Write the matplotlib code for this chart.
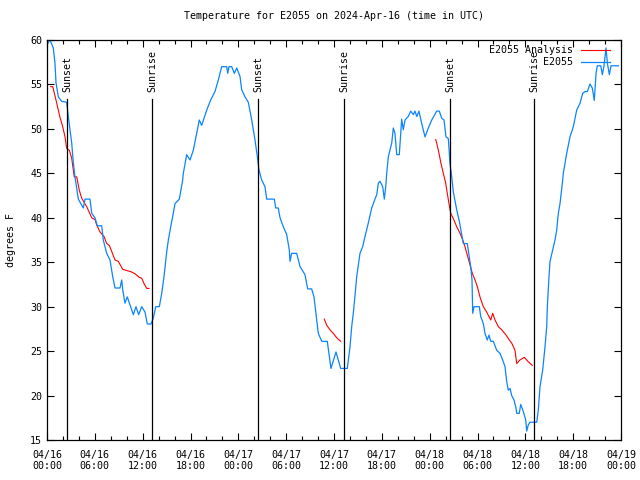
import matplotlib
matplotlib.use("Agg")
import matplotlib.pyplot as plt
import matplotlib.dates as mdates
from datetime import datetime, timedelta

# hours after 2024-04-16 00:00 UTC, temperature in F
obs_hours = [0, 0.38, 0.79, 1.0, 1.13, 1.42, 1.84, 2.47, 2.67, 2.89, 3.10, 3.30, 3.51, 3.93,
             4.55, 4.77, 5.39, 5.61, 6.02, 6.31, 6.86, 7.06, 7.49, 7.90, 8.24, 8.53, 9.16, 9.37,
             9.50, 9.78, 10.07, 10.41, 10.83, 11.16, 11.50, 11.88, 12.29, 12.58, 13.05, 13.33,
             13.64, 14.09, 14.39, 14.68, 15.02, 15.22, 15.52, 15.84, 16.06, 16.60, 17.02, 17.10,
             17.52, 17.94, 18.35, 18.69, 19.10, 19.40, 19.69, 20.03, 20.53, 21.07, 21.49, 21.91,
             22.54, 22.67, 22.83, 23.17, 23.50, 23.80, 24.21, 24.42, 24.84, 25.25, 25.68, 25.88,
             26.09, 26.38, 26.59, 26.93, 27.34, 27.56, 28.51, 28.69, 29.01, 29.23, 29.64, 30.07,
             30.39, 30.48, 30.69, 31.32, 31.74, 32.36, 32.70, 33.20, 33.49, 33.83, 34.03, 34.46,
             35.16, 35.41, 35.62, 36.25, 36.84, 37.67, 38.01, 38.22, 38.42, 38.64, 38.85, 39.05,
             39.26, 39.60, 39.89, 40.30, 40.73, 41.14, 41.36, 41.56, 41.77, 42.11, 42.31, 42.49,
             42.61, 42.82, 43.24, 43.44, 43.65, 43.87, 44.19, 44.49, 44.69, 44.91, 45.32, 45.62,
             45.95, 46.16, 46.38, 46.66, 47.00, 47.42, 47.83, 48.26, 48.88, 49.21, 49.51, 49.80,
             50.05, 50.34, 50.55, 50.77, 50.97, 51.39, 51.72, 52.02, 52.22, 52.72, 52.97, 53.15,
             53.31, 53.40, 53.56, 54.23, 54.40, 54.73, 54.94, 55.23, 55.44, 55.66, 55.98, 56.41,
             56.82, 57.16, 57.45, 57.66, 57.86, 58.08, 58.29, 58.58, 58.83, 58.92, 59.24, 59.42,
             59.75, 60.05, 60.17, 60.37, 60.59, 61.43, 61.63, 61.84, 62.18, 62.47, 62.68, 62.76,
             62.97, 63.10, 63.43, 63.72, 63.93, 64.14, 64.35, 64.69, 64.76, 65.19, 65.60, 66.02,
             66.44, 66.86, 67.20, 67.49, 67.78, 68.11, 68.40, 68.65, 68.87, 69.03, 69.46, 69.66,
             69.87, 70.12, 70.29, 70.54, 70.75, 71.67]
obs_temps = [59.5, 60, 59.1, 57.4, 55.2, 53.6, 53.1, 53.0, 51.4, 49.9, 48.4, 46.2, 44.6, 42.1,
             41.1, 42.1, 42.1, 40.5, 40, 39.1, 39.1, 37.5, 36, 35.25, 33.4, 32.1, 32.1, 33,
             31.9, 30.4, 31.1, 30.2, 29.1, 30, 29.1, 30, 29.4, 28.05, 28.05, 28.7,
             30, 30, 31.5, 33.4, 36.2, 37.5, 39, 40.5, 41.6, 42.1, 44.25, 45,
             47.1, 46.5, 47.6, 49.1, 51, 50.4, 51.2, 52.1, 53.25, 54.2, 55.5, 57,
             57, 56.25, 57, 57, 56.25, 56.85, 55.9, 54.4, 53.6, 53, 51, 49.9,
             48.75, 46.9, 45.4, 44.25, 43.5, 42.1, 42.1, 41.1, 41.1, 40, 39, 38.1,
             36.4, 35.1, 36, 36, 34.5, 33.6, 32, 32, 31.1, 28.5, 27, 26.1,
             26.1, 24.4, 23.05, 24.9, 23.05, 23.05, 25.5, 27.75, 29.25, 31.3, 33.4, 34.7,
             36, 36.75, 37.9, 39.4, 41.1, 42.1, 42.6, 43.9, 44.1, 43.5, 42.1, 43.5,
             45, 46.9, 48.4, 50.1, 49.5, 47.1, 47.1, 51.1, 49.9, 51, 51.4, 52,
             51.6, 52, 51.4, 52, 50.6, 49.1, 50.1, 51, 52, 52, 51.2, 51,
             49.1, 48.9, 46.1, 44.6, 42.9, 40.9, 39.6, 38.1, 37.1, 37.1, 35.6, 34.5,
             33, 29.25, 30, 30, 28.9, 28.1, 27, 26.25, 26.8, 26.1, 26.1, 25.1,
             24.75, 24, 23.25, 21.6, 20.6, 20.8, 20, 19.5, 18.6, 18, 18, 19,
             18.2, 17.25, 16, 16.7, 17, 17, 18.4, 21, 22.9, 25.5, 27.75, 30,
             33.4, 35.1, 36.4, 37.5, 38.6, 40.5, 41.6, 44.25, 45, 47.25, 49.1, 50.25,
             52.1, 52.9, 54, 54.2, 54.2, 55.05, 54.6, 53.2, 56.25, 57.1, 57.1, 56.1,
             57.1, 59.1, 57.4, 56.1, 57.1, 57.1]

# analysis comes in three separate pieces
ana_hours = [
    [0.46, 0.72, 1.09, 1.42, 1.63, 1.97, 2.26, 2.47, 2.80, 3.10, 3.22, 3.42, 3.73, 4.05, 4.35,
     4.98, 5.61, 6.02, 6.23, 6.65, 7.15, 7.49, 7.81, 8.12, 8.53, 8.94, 9.50, 10.07, 10.62,
     11.04, 11.58, 11.88, 12.17, 12.51, 12.79],
    [34.78, 35.09, 35.50, 35.91, 36.34, 36.84],
    [48.76, 48.88, 49.17, 49.42, 49.71, 50.01, 50.21, 50.46, 50.64, 50.97, 51.39, 51.81, 52.15,
     52.43, 52.72, 53.06, 53.35, 53.69, 53.98, 54.31, 54.73, 55.15, 55.66, 55.91, 56.20, 56.61,
     57.04, 57.58, 57.99, 58.29, 58.70, 58.92, 59.33, 59.87, 60.37, 60.88],
]
ana_temps = [
    [54.75, 54.75, 53.4, 52.1, 51.3, 50.25, 49.1, 47.8, 47.6, 46.7, 45.9, 44.6, 44.6, 43.1, 42.2,
     41.25, 40, 39.8, 39.2, 38.4, 37.9, 37.1, 36.9, 36.2, 35.25, 35.1, 34.2, 34.05, 33.9,
     33.7, 33.3, 33.2, 32.6, 32.05, 32.05],
    [28.6, 27.9, 27.4, 27, 26.5, 26.1],
    [48.8, 48.4, 47.25, 46.1, 45, 43.9, 42.75, 41.4, 40.5, 39.9, 39, 38.25, 37.5,
     36.75, 35.8, 34.7, 33.75, 33, 32.25, 31.1, 30, 29.4, 28.5, 29.25, 28.5, 27.75,
     27.4, 26.8, 26.25, 25.9, 25.1, 23.6, 24, 24.3, 23.8, 23.4],
]

sun_hours = [2.51, 13.17, 26.47, 37.26, 50.55, 61.09]
sun_names = ["Sunset", "Sunrise", "Sunset", "Sunrise", "Sunset", "Sunrise"]

start = datetime(2024, 4, 16)
def to_time(hours):
    return [start + timedelta(hours=h) for h in hours]

plt.rcParams["font.family"] = "DejaVu Sans Mono"
plt.rcParams["font.size"] = 7.2

fig = plt.figure(figsize=(6.4, 4.8), dpi=100)
ax = fig.add_axes([47 / 640, 40 / 480, 574 / 640, 400 / 480])

for i in range(len(ana_hours)):
    ax.plot(to_time(ana_hours[i]), ana_temps[i], color="#ff0000", lw=0.8,
            label="E2055 Analysis" if i == 0 else None)
ax.plot(to_time(obs_hours), obs_temps, color="#0a84ff", lw=0.9, label="E2055")

# sunrise / sunset markers
for h, name in zip(sun_hours, sun_names):
    t = start + timedelta(hours=h)
    ax.plot([t, t], [15, 53.4], color="black", lw=0.9)
    ax.text(t, 54.1, name, rotation=90, ha="center", va="bottom")

ax.set_xlim(start, start + timedelta(hours=72))
ax.set_ylim(15, 60)
ax.set_yticks(range(15, 61, 5))
ax.xaxis.set_major_locator(mdates.HourLocator(byhour=[0, 6, 12, 18]))
ax.xaxis.set_minor_locator(mdates.HourLocator(interval=2))
ax.xaxis.set_major_formatter(mdates.DateFormatter("%m/%d\n%H:%M"))
ax.tick_params(which="both", direction="in", top=True, right=True, labelsize=7.2)
ax.tick_params(which="major", length=5, width=0.8)
ax.tick_params(which="minor", length=3, width=0.8)
ax.tick_params(axis="x", which="major", pad=7)
for lbl in ax.get_xticklabels():
    lbl.set_linespacing(1.15)
for sp in ax.spines.values():
    sp.set_linewidth(0.9)

ax.set_ylabel("degrees F", labelpad=10)
ax.set_title("Temperature for E2055 on 2024-Apr-16 (time in UTC)", fontsize=7.2, pad=15)

ax.legend(loc="upper right", bbox_to_anchor=(0.988, 0.997), frameon=False,
          markerfirst=False, handlelength=2.9, labelspacing=0.2, borderaxespad=0,
          borderpad=0.4, handletextpad=0.8)

fig.savefig("out.png", dpi=100)
